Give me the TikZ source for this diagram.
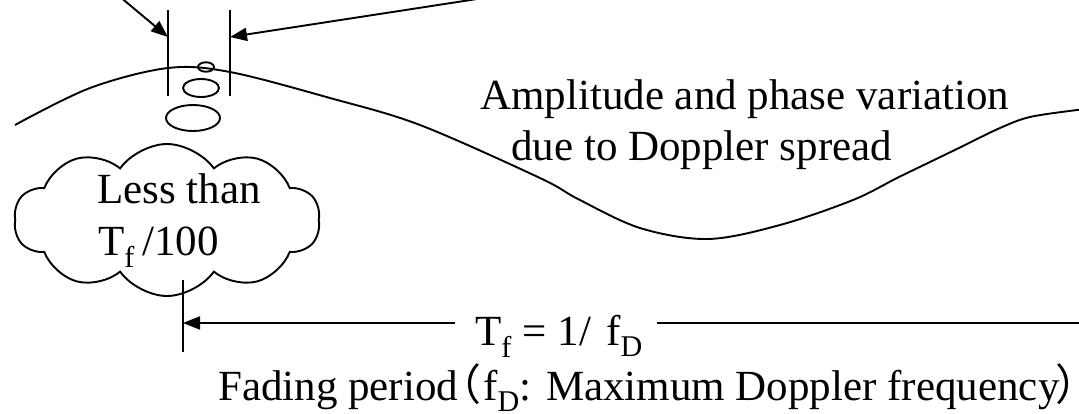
\documentclass[tikz,border=0pt]{standalone}
\usepackage{fontspec}
\setmainfont{Liberation Serif}
\newfontfamily\cjk{Noto Sans CJK SC}
\usetikzlibrary{arrows.meta,shapes.symbols}
\tikzset{
  ln/.style={line width=1.9pt,black},
  arr/.style={ln,-{Triangle[length=17pt,width=13pt]}},
  txt/.style={inner sep=0pt,font=\fontsize{43}{48}\selectfont,anchor=base west},
}
\begin{document}
\begin{tikzpicture}[x=1pt,y=-1pt]
\useasboundingbox (0,0) rectangle (1079,413);
% vertical marker lines
\coordinate (l1t) at (168,10); \coordinate (l1b) at (168,96);
\coordinate (l2t) at (230,10); \coordinate (l2b) at (230,96);
\draw[ln] (l1t) -- (l1b);
\draw[ln] (l2t) -- (l2b);
\coordinate (a1s) at (119,-4); \coordinate (a1e) at (168,37);
\coordinate (a2s) at (490,-3); \coordinate (a2e) at (230,37);
\draw[arr] (a1s) -- (a1e);
\draw[arr] (a2s) -- (a2e);
% wave
\draw[ln] plot[smooth,tension=0.55] coordinates {(15,125) (90,88) (168,68) (230,72) (330,98) (420,125) (540,178) (578,199) (640,228) (708,239) (780,225) (853,200) (897,178) (930,162) (963,146) (1000,128) (1030,117) (1077,110) (1082,110)};
% thought bubbles
\draw[ln] (206,67) ellipse (8 and 4.7);
\draw[ln] (201,88) ellipse (18 and 9);
\draw[ln] (193,118) ellipse (27 and 13);
% cloud
\node[cloud,draw,ln,cloud puffs=10,cloud puff arc=110,aspect=2,minimum width=306,minimum height=152,inner sep=0pt] (cl) at (167,220) {};
\node[txt] (less) at (97,203) {Less than};
\node[txt] (tf) at (98,255) {T\textsubscript{f}\,/100};
% text
\node[txt] (amp) at (480,109) {Amplitude and phase variation};
\node[txt] (due) at (511,160) {due to Doppler spread};
% bottom marker
\coordinate (l3t) at (183,280); \coordinate (l3b) at (183,352);
\draw[ln] (l3t) -- (l3b);
\node[txt] (per) at (475,345) {T\textsubscript{f} = 1/\hspace{0.35em}f\textsubscript{D}};
\coordinate (ae) at (183,323);
\coordinate (re) at (1079,323);
\draw[arr] (per.west |- ae) ++(-20,0) -- (ae);
\draw[ln] (per.east |- ae) ++(14,0) -- (re);
\node[txt] (fad) at (218,400) {Fading period{\cjk\hspace{-0.45em}（\hspace{0.03em}}f\textsubscript{D}: Maximum Doppler frequency{\cjk\hspace{-0.1em}\makebox[0.4em][l]{）}}};
\end{tikzpicture}
\end{document}
